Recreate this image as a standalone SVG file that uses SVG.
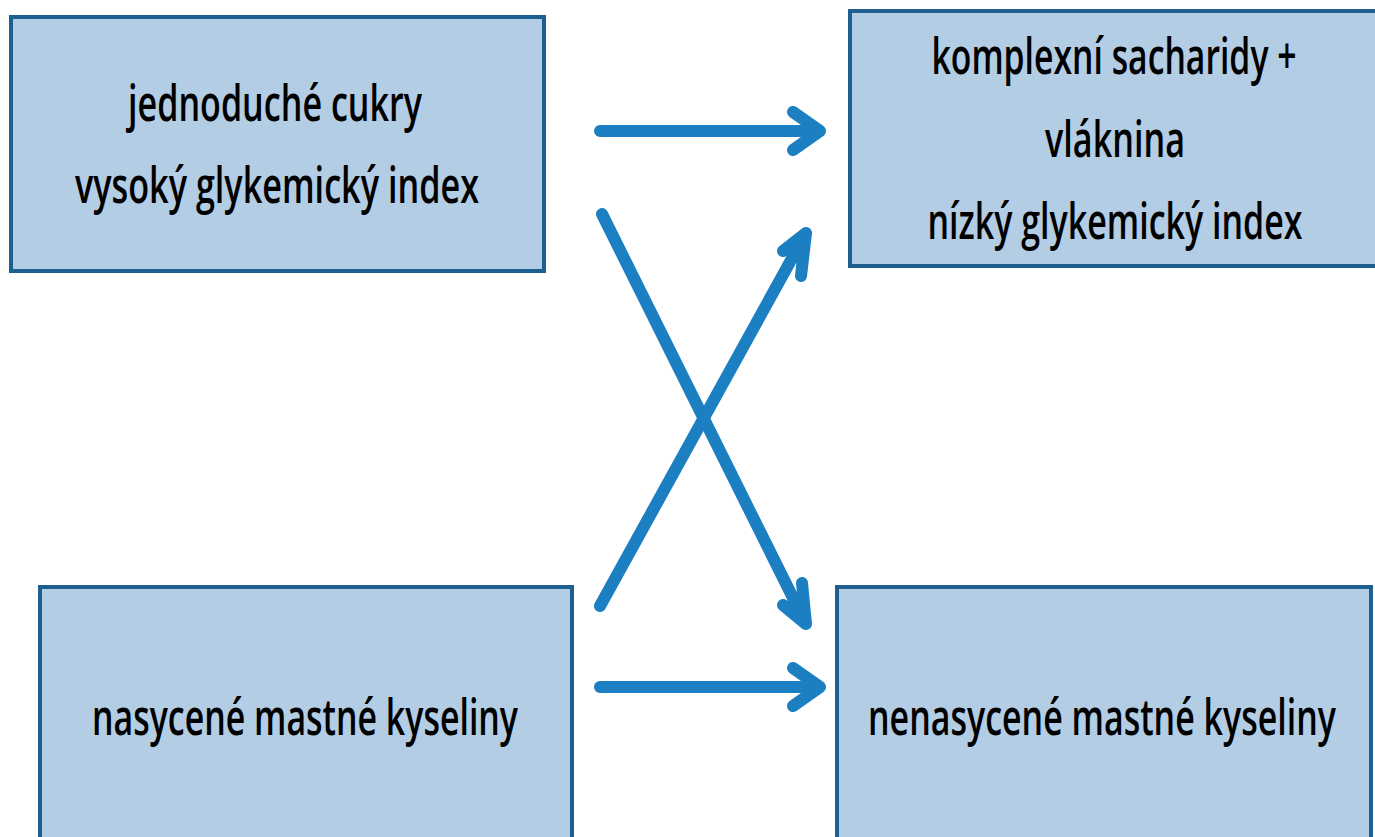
<svg xmlns="http://www.w3.org/2000/svg" width="1375" height="837" viewBox="0 0 1375 837">
<style>
.box{fill:#b3cde4;stroke:#1d5f8e;stroke-width:4}
.t{font-family:"Open Sans","Liberation Sans",sans-serif;font-size:36px;font-weight:600;fill:#000;text-anchor:middle}
.c{fill:none;stroke:#1b7fc2;stroke-width:12;stroke-linecap:round;stroke-linejoin:round}
</style>
<rect width="1375" height="837" fill="#fff"/>
<g id="n1">
<rect class="box" x="11" y="17" width="533" height="254"/>
<text class="t" transform="translate(275 121) scale(1 1.39)" textLength="294" lengthAdjust="spacingAndGlyphs">jednoduché cukry</text>
<text class="t" transform="translate(277 203) scale(1 1.39)" textLength="404" lengthAdjust="spacingAndGlyphs">vysoký glykemický index</text>
</g>
<g id="n2">
<rect class="box" x="850" y="11" width="528" height="255"/>
<text class="t" transform="translate(1114 74) scale(1 1.39)" textLength="365" lengthAdjust="spacingAndGlyphs">komplexní sacharidy +</text>
<text class="t" transform="translate(1115 157) scale(1 1.39)" textLength="140" lengthAdjust="spacingAndGlyphs">vláknina</text>
<text class="t" transform="translate(1115 239) scale(1 1.39)" textLength="375" lengthAdjust="spacingAndGlyphs">nízký glykemický index</text>
</g>
<g id="n3">
<rect class="box" x="40" y="587" width="532" height="260"/>
<text class="t" transform="translate(305 735) scale(1 1.39)" textLength="426" lengthAdjust="spacingAndGlyphs">nasycené mastné kyseliny</text>
</g>
<g id="n4">
<rect class="box" x="837" y="587" width="534" height="260"/>
<text class="t" transform="translate(1102 735) scale(1 1.39)" textLength="468" lengthAdjust="spacingAndGlyphs">nenasycené mastné kyseliny</text>
</g>
<g id="connectors">
<path class="c" d="M600 131 H820 M793 112 L820 131 L793 150"/>
<path class="c" d="M600 687 H820 M793 668 L820 687 L793 706"/>
<path class="c" d="M602 214 L806 624 M802 583 L806 624 L783 605"/>
<path class="c" d="M600 606 L806 233 M783 251 L806 233 L801 276"/>
</g>
</svg>
